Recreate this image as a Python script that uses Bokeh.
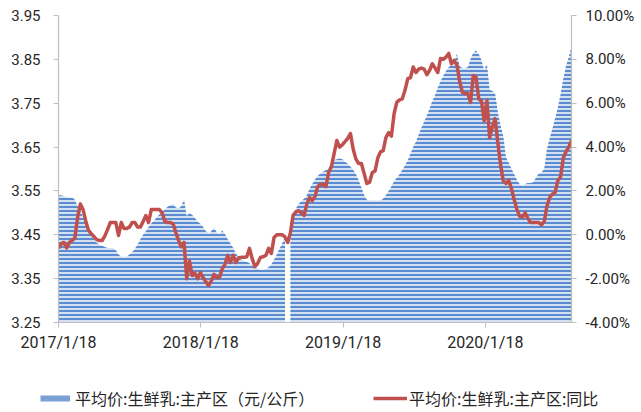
import numpy as np
import pandas as pd
from bokeh.plotting import figure
from bokeh.layouts import column
from bokeh.models import (Range1d, LinearAxis, FixedTicker, PrintfTickFormatter,
                          Legend, LegendItem, ColumnDataSource)
from bokeh.embed import file_html
from bokeh.resources import INLINE

# ---------------- data (weekly, from 2017-01-18) ----------------
start_date = "2017-01-18"
series_price_name = "平均价:生鲜乳:主产区（元/公斤）"
series_yoy_name = "平均价:生鲜乳:主产区:同比"

price = [
    3.540, 3.540, 3.538, 3.535, 3.535, 3.535, 3.530, 3.515, 3.505, 3.490,
    3.478, 3.465, 3.452, 3.440, 3.432, 3.428, 3.425, 3.422, 3.420, 3.420,
    3.420, 3.415, 3.405, 3.400, 3.400, 3.400, 3.405, 3.410, 3.418, 3.428,
    3.440, 3.450, 3.458, 3.468, 3.476, 3.482, 3.490, 3.496, 3.502, 3.508,
    3.514, 3.518, 3.520, 3.512, 3.510, 3.515, 3.530, 3.492, 3.500, 3.495,
    3.488, 3.480, 3.475, 3.468, 3.458, 3.453, 3.458, 3.466, 3.455, 3.452,
    3.460, 3.452, 3.440, 3.430, 3.420, 3.408, 3.398, 3.393, 3.390, 3.388,
    3.385, 3.380, 3.376, 3.373, 3.371, 3.370, 3.372, 3.376, 3.382, 3.393,
    3.405, 3.418, 3.430, 3.445, None, 3.480, 3.495, 3.510, 3.520, 3.527,
    3.532, 3.540, 3.555, 3.565, 3.576, 3.584, 3.590, 3.594, 3.598, 3.602,
    3.610, 3.620, 3.622, 3.624, 3.622, 3.616, 3.612, 3.605, 3.598, 3.588,
    3.574, 3.558, 3.540, 3.530, 3.528, 3.528, 3.528, 3.528, 3.528, 3.532,
    3.540, 3.550, 3.560, 3.572, 3.580, 3.588, 3.598, 3.608, 3.620, 3.635,
    3.650, 3.662, 3.678, 3.694, 3.708, 3.722, 3.738, 3.755, 3.768, 3.785,
    3.800, 3.812, 3.823, 3.832, 3.838, 3.843, 3.862, 3.835, 3.830, 3.830,
    3.832, 3.850, 3.865, 3.870, 3.862, 3.848, 3.825, 3.840, 3.780, 3.778,
    3.772, 3.730, 3.700, 3.675, 3.626, 3.614, 3.600, 3.588, 3.575, 3.565,
    3.562, 3.566, 3.568, 3.568, 3.570, 3.580, 3.590, 3.592, 3.600, 3.645,
    3.670, 3.692, 3.715, 3.740, 3.770, 3.805, 3.835, 3.855, 3.880,
]

yoy_pct = [
    -0.62, -0.40, -0.35, -0.60, -0.35, -0.26, -0.15, 0.79, 1.40, 1.15,
    0.62, 0.20, 0.05, -0.08, -0.22, -0.26, -0.26, -0.05, 0.25, 0.56,
    0.56, 0.56, -0.03, 0.56, 0.29, 0.29, 0.35, 0.56, 0.56, 0.35,
    0.35, 0.60, 0.88, 0.56, 1.15, 1.15, 1.15, 1.15, 1.00, 0.60,
    0.56, 0.56, 0.50, 0.10, -0.26, -0.55, -0.35, -2.00, -1.20, -1.86,
    -1.75, -2.00, -1.72, -1.95, -2.15, -2.31, -2.10, -1.80, -1.95, -1.95,
    -1.55, -1.35, -0.94, -1.26, -0.94, -1.26, -1.05, -1.03, -1.03, -1.00,
    -0.62, -1.10, -1.45, -1.30, -1.03, -1.00, -0.94, -0.62, -0.85, -0.12,
    0.00, 0.00, 0.00, -0.10, -0.35, 0.10, 0.90, 1.05, 1.10, 1.00,
    0.88, 1.40, 1.70, 1.56, 1.75, 2.20, 2.30, 2.30, 2.20, 2.84,
    3.10, 3.70, 4.30, 4.00, 4.10, 4.25, 4.40, 4.62, 3.90, 3.45,
    3.25, 3.25, 2.80, 2.34, 2.40, 2.84, 2.90, 3.50, 3.78, 3.84,
    4.44, 4.66, 4.50, 5.53, 6.05, 6.15, 6.20, 6.60, 7.12, 7.17,
    7.65, 7.40, 7.55, 7.60, 7.55, 7.30, 7.50, 7.80, 7.60, 7.40,
    8.04, 8.00, 8.10, 8.27, 7.80, 7.95, 7.75, 7.00, 6.50, 6.44,
    6.44, 6.03, 7.26, 7.20, 6.20, 6.10, 5.20, 6.12, 4.44, 4.90,
    5.30, 4.20, 3.20, 2.45, 2.34, 2.48, 2.10, 1.60, 1.15, 0.85,
    0.79, 1.00, 0.75, 0.56, 0.56, 0.56, 0.56, 0.45, 0.60, 1.30,
    1.70, 1.85, 1.93, 2.48, 2.65, 3.50, 3.80, 4.00, 4.30,
]

x_tick_dates = ["2017-01-18", "2018-01-18", "2019-01-18", "2020-01-18"]
x_tick_labels = ["2017/1/18", "2018/1/18", "2019/1/18", "2020/1/18"]
left_ticks = [3.25, 3.35, 3.45, 3.55, 3.65, 3.75, 3.85, 3.95]
right_ticks = [-4, -2, 0, 2, 4, 6, 8, 10]

# ---------------- derived ----------------
dates = pd.date_range(start_date, periods=len(price), freq="7D")
days = np.asarray((dates - dates[0]).days, dtype=float)
price_arr = np.array([np.nan if v is None else v for v in price], dtype=float)
tick_days = [int((pd.Timestamp(d) - dates[0]).days) for d in x_tick_dates]

FONT = "Roboto"
CJK = "Noto Sans CJK SC"
AXIS_COLOR = "#bfbfbf"
LABEL_COLOR = "#262626"
BLUE_LIGHT = "#d3e0f2"
BLUE_DARK = "#5b8bd0"
RED = "#c0504d"


def no_frame_align(fig):
    if "frame_align" in fig.properties():
        fig.frame_align = False


p = figure(width=641, height=382, output_backend="svg", toolbar_location=None,
           x_range=Range1d(days[0], days[-1]), y_range=Range1d(left_ticks[0], left_ticks[-1]),
           min_border_left=58, min_border_right=70, min_border_top=15, min_border_bottom=60)
no_frame_align(p)
p.extra_y_ranges = {"pct": Range1d(right_ticks[0], right_ticks[-1])}
p.xgrid.visible = False
p.ygrid.visible = False
p.outline_line_color = None
p.background_fill_color = "white"
p.border_fill_color = "white"

# area, split at missing values
valid = ~np.isnan(price_arr)
segments = []
i = 0
n = len(price_arr)
while i < n:
    if valid[i]:
        j = i
        while j < n and valid[j]:
            j += 1
        segments.append((i, j))
        i = j
    else:
        i += 1

for (a, b) in segments:
    src = ColumnDataSource(dict(x=days[a:b], y=price_arr[a:b]))
    p.varea(x="x", y1=left_ticks[0], y2="y", source=src,
            fill_color=BLUE_LIGHT, hatch_pattern="horizontal_line",
            hatch_color=BLUE_DARK, hatch_scale=4, hatch_weight=2)

p.line(days, yoy_pct, y_range_name="pct", line_color=RED, line_width=3.5,
       line_join="round")

# axes
xa = p.xaxis[0]
xa.ticker = FixedTicker(ticks=tick_days)
xa.major_label_overrides = {d: l for d, l in zip(tick_days, x_tick_labels)}
ya = p.yaxis[0]
ya.ticker = FixedTicker(ticks=left_ticks)
ya.formatter = PrintfTickFormatter(format="%.2f")
ra = LinearAxis(y_range_name="pct", ticker=FixedTicker(ticks=right_ticks),
                formatter=PrintfTickFormatter(format="%.2f%%"))
p.add_layout(ra, "right")

for ax, standoff, fsize in ((xa, 5, "16px"), (ya, 13, "15px"), (ra, 9, "15px")):
    ax.axis_line_color = AXIS_COLOR
    ax.axis_line_width = 1.2
    ax.major_tick_line_color = AXIS_COLOR
    ax.major_tick_out = 5
    ax.major_tick_in = 0
    ax.minor_tick_line_color = None
    ax.major_label_text_font = FONT
    ax.major_label_text_font_size = fsize
    ax.major_label_text_color = LABEL_COLOR
    ax.major_label_standoff = standoff

# ---------------- legend strip ----------------
lf = figure(width=641, height=30, output_backend="svg", toolbar_location=None,
            x_range=Range1d(0, 1), y_range=Range1d(0, 1), x_axis_type=None, y_axis_type=None,
            min_border=0)
no_frame_align(lf)
lf.xgrid.visible = False
lf.ygrid.visible = False
lf.outline_line_color = None
lf.background_fill_color = "white"
lf.border_fill_color = "white"
nan2 = [np.nan, np.nan]
leg_area = lf.line(x=[0, 1], y=nan2, line_color="#7aa0d6", line_width=6)
leg_line = lf.line(x=[0, 1], y=nan2, line_color=RED, line_width=3.5)

legend_common = dict(padding=0, margin=0, border_line_alpha=0, background_fill_alpha=0,
                     label_text_font=CJK, label_text_font_size="16px",
                     label_text_color=LABEL_COLOR, glyph_height=20, label_height=20)
lg1 = Legend(items=[LegendItem(label=series_price_name, renderers=[leg_area])],
             location=(40, 2), glyph_width=30, label_standoff=5, **legend_common)
lg2 = Legend(items=[LegendItem(label=series_yoy_name, renderers=[leg_line])],
             location=(373, 2), glyph_width=34, label_standoff=2, **legend_common)
lf.add_layout(lg1, "center")
lf.add_layout(lg2, "center")

open("out.html", "w").write(file_html(column(p, lf), INLINE))
